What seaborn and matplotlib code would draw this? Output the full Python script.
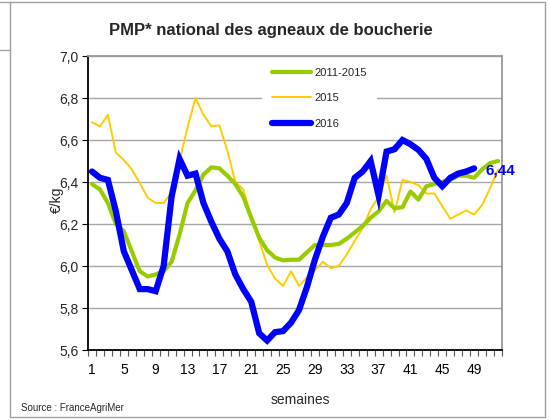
import numpy as np
import pandas as pd
import matplotlib
matplotlib.use("Agg")
import matplotlib.pyplot as plt
import seaborn as sns
from matplotlib.lines import Line2D

# semaines
weeks_all = list(range(1, 53))
weeks_2016 = list(range(1, 50))

# prix moyen pondere, euros/kg
avg_2011_2015 = [6.39, 6.365, 6.30, 6.20, 6.165, 6.07, 5.975, 5.95, 5.96, 5.975,
                 6.02, 6.15, 6.30, 6.36, 6.435, 6.47, 6.465, 6.43, 6.39, 6.33,
                 6.23, 6.135, 6.075, 6.04, 6.027, 6.03, 6.03, 6.065, 6.10, 6.10,
                 6.10, 6.105, 6.13, 6.16, 6.19, 6.23, 6.26, 6.31, 6.275, 6.28,
                 6.355, 6.316, 6.38, 6.39, 6.40, 6.41, 6.43, 6.43, 6.42, 6.46,
                 6.49, 6.50]
prix_2015 = [6.685, 6.665, 6.72, 6.54, 6.505, 6.46, 6.395, 6.325, 6.30, 6.30,
             6.35, 6.50, 6.66, 6.80, 6.72, 6.665, 6.67, 6.55, 6.40, 6.365,
             6.235, 6.12, 6.005, 5.94, 5.905, 5.975, 5.905, 5.945, 5.98, 6.02,
             5.99, 6.00, 6.055, 6.12, 6.18, 6.27, 6.33, 6.43, 6.255, 6.41,
             6.40, 6.385, 6.345, 6.345, 6.285, 6.225, 6.245, 6.265, 6.245, 6.29,
             6.37, 6.46]
prix_2016 = [6.45, 6.42, 6.41, 6.26, 6.07, 5.98, 5.89, 5.89, 5.88, 6.00,
             6.33, 6.51, 6.43, 6.44, 6.30, 6.21, 6.13, 6.07, 5.96, 5.89,
             5.83, 5.68, 5.645, 5.685, 5.69, 5.73, 5.79, 5.90, 6.03, 6.14,
             6.23, 6.245, 6.30, 6.42, 6.45, 6.50, 6.335, 6.545, 6.556, 6.60,
             6.58, 6.553, 6.51, 6.42, 6.38, 6.42, 6.44, 6.45, 6.465]

y_ticks = [5.6, 5.8, 6.0, 6.2, 6.4, 6.6, 6.8, 7.0]
x_tick_weeks = list(range(1, 50, 4))
last_label = "6,44"

df_avg = pd.DataFrame({"semaine": weeks_all, "prix": avg_2011_2015})
df_2015 = pd.DataFrame({"semaine": weeks_all, "prix": prix_2015})
df_2016 = pd.DataFrame({"semaine": weeks_2016, "prix": prix_2016})

sns.set_style("white")
plt.rcParams['font.family'] = ['Liberation Sans', 'DejaVu Sans']

W, H = 549, 420
fig = plt.figure(figsize=(W / 100, H / 100), dpi=100)
ax = fig.add_axes([88 / W, 1 - 350 / H, 414 / W, 294 / H])

green, yellow, blue = '#99CC00', '#FFCC00', '#0000FF'
sns.lineplot(data=df_2015, x="semaine", y="prix", ax=ax, color=yellow, linewidth=1.4, zorder=3)
sns.lineplot(data=df_avg, x="semaine", y="prix", ax=ax, color=green, linewidth=3.0, zorder=4)
sns.lineplot(data=df_2016, x="semaine", y="prix", ax=ax, color=blue, linewidth=4.5, zorder=5,
             solid_joinstyle='miter')

ax.set_xlim(0.5, 52.5)
ax.set_ylim(5.6, 7.0)
ax.set_yticks(y_ticks)
ax.set_yticklabels([f"{v:.1f}".replace('.', ',') for v in y_ticks])
ax.yaxis.grid(True, color='#A6A6A6', linewidth=1.0)
ax.xaxis.grid(False)
ax.set_axisbelow(True)

ax.set_xticks(x_tick_weeks)
ax.set_xticklabels([str(w) for w in x_tick_weeks])
ax.set_xticks(np.arange(0.5, 53, 1), minor=True)
ax.tick_params(axis='x', which='major', length=0, pad=9, labelsize=10, colors='black')
ax.tick_params(axis='x', which='minor', length=4, width=0.8, color='#555555', direction='out', bottom=True)
ax.tick_params(axis='y', which='major', length=4, width=0.8, color='black', direction='out',
               left=True, labelsize=10, pad=3)

for side in ['left', 'bottom']:
    ax.spines[side].set_color('black')
    ax.spines[side].set_linewidth(1.3)
for side in ['top', 'right']:
    ax.spines[side].set_color('#999999')
    ax.spines[side].set_linewidth(1.3)

ax.set_xlabel("")
ax.set_ylabel("")

handles = [Line2D([], [], color=green, linewidth=3.0),
           Line2D([], [], color=yellow, linewidth=1.4),
           Line2D([], [], color=blue, linewidth=4.5)]
leg = ax.legend(handles, ["2011-2015", "2015", "2016"], loc='upper left',
                bbox_to_anchor=(262 / W, 1 - 57.5 / H), bbox_transform=fig.transFigure,
                fontsize=8, frameon=True, facecolor='white', edgecolor='none', framealpha=1,
                fancybox=False, borderpad=0.9, borderaxespad=0, handlelength=3.5,
                handletextpad=0.36, labelspacing=1.4)
leg.set_zorder(6)

ax.text(50.4, 6.455, last_label, color=blue, fontsize=11, fontweight='bold',
        ha='left', va='center', clip_on=False, zorder=7)

fig.text(271 / W, 1 - 30 / H, "PMP* national des agneaux de boucherie",
         ha='center', va='center', fontsize=12, fontweight='bold')
fig.text(57 / W, 1 - 200 / H, "€/kg", rotation=90, ha='center', va='center', fontsize=10)
fig.text(300 / W, 1 - 400 / H, "semaines", ha='center', va='center', fontsize=10)
fig.text(21 / W, 1 - 408 / H, "Source : FranceAgriMer", ha='left', va='center', fontsize=7)

# cadre autour du graphique
border = '#A0A0A0'
fig.add_artist(Line2D([10 / W, 545 / W, 545 / W, 10 / W, 10 / W],
                      [1 - 2 / H, 1 - 2 / H, 1 - 417 / H, 1 - 417 / H, 1 - 2 / H],
                      color=border, linewidth=1.0, transform=fig.transFigure))
fig.add_artist(Line2D([0, 10 / W], [1 - 2 / H, 1 - 2 / H], color=border, linewidth=1.0,
                      transform=fig.transFigure))
fig.add_artist(Line2D([0, 10 / W], [1 - 50 / H, 1 - 50 / H], color=border, linewidth=1.0,
                      transform=fig.transFigure))

fig.savefig("out.png", dpi=100)
